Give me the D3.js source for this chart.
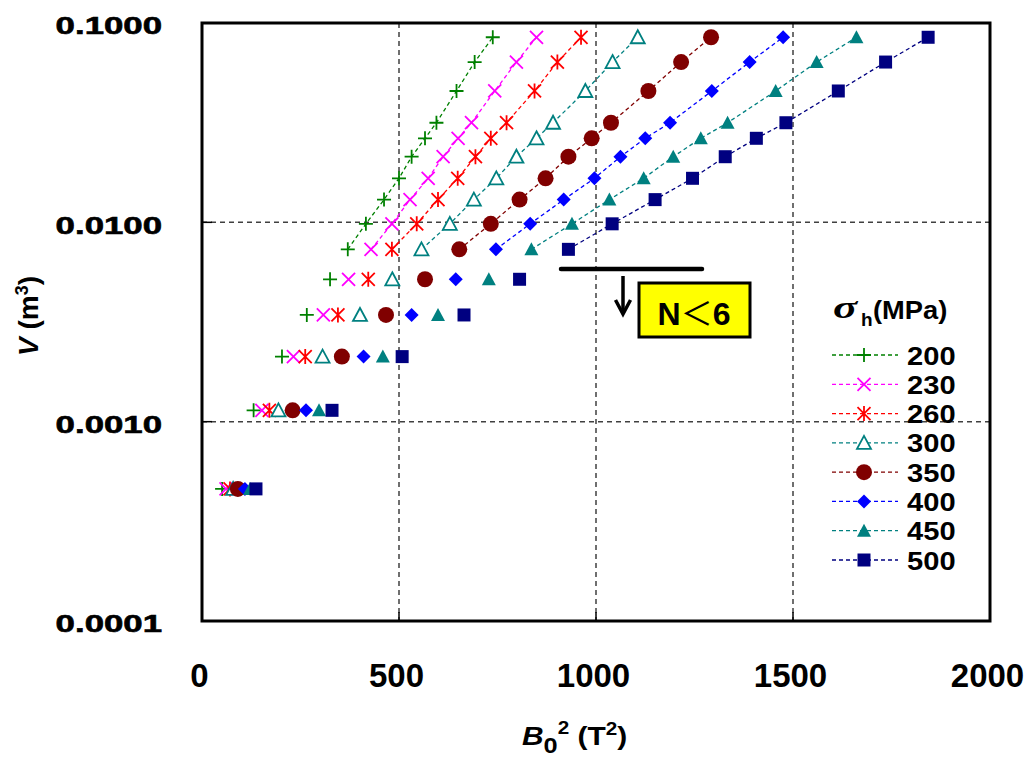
<!DOCTYPE html>
<html>
<head>
<meta charset="utf-8">
<script src="https://cdn.jsdelivr.net/npm/d3@7"></script>
<style>
  body { margin: 0; background: #fff; }
  text { font-family: "Liberation Sans", Arial, sans-serif; font-weight: bold; fill: #000; }
</style>
</head>
<body>
<svg width="1028" height="758"></svg>
<script>
// volume levels V (m3), shared by all series, smallest first
const volumes = [0.00046, 0.00114, 0.00212, 0.00343, 0.00518, 0.00732, 0.00983, 0.0130,
                 0.01663, 0.02134, 0.0264, 0.0316, 0.0456, 0.0637, 0.0848];
// B0^2 (T^2) per hoop stress
const b2_200 = [51, 131, 203, 266, 325, 370, 416, 462, 500, 532, 566, 595, 646, 692, 738];
const b2_230 = [61, 152, 232, 308, 372, 429, 482, 528, 574, 612, 650, 684, 743, 798, 849];
const b2_260 = [71, 171, 262, 345, 422, 482, 545, 599, 649, 694, 733, 773, 844, 902, 962];
const b2_300 = [79, 194, 306, 401, 483, 557, 629, 690, 747, 798, 849, 891, 973, 1042, 1106];
const b2_350 = [91, 230, 355, 467, 566, 653, 733, 806, 872, 930, 989, 1038, 1133, 1216, 1292];
const b2_400 = [109, 264, 410, 532, 644, 746, 833, 918, 996, 1062, 1125, 1188, 1294, 1390, 1475];
const b2_450 = [122, 297, 459, 599, 728, 836, 939, 1034, 1121, 1196, 1266, 1334, 1456, 1560, 1661];
const b2_500 = [137, 330, 508, 665, 806, 930, 1041, 1150, 1245, 1328, 1407, 1482, 1615, 1735, 1843];
const stressLabels = ["200", "230", "260", "300", "350", "400", "450", "500"];
const xTicks = [0, 500, 1000, 1500, 2000];
const yTicks = [0.0001, 0.001, 0.01, 0.1];
const firstLinked = 5; // points below this index (N<6) are not joined

const svg = d3.select("svg");

const xScale = d3.scaleLinear().domain([0, 2000]).range([202, 990]);
const yScale = d3.scaleLog().domain([0.0001, 0.1]).range([621, 23]);

const seriesB2 = [b2_200, b2_230, b2_260, b2_300, b2_350, b2_400, b2_450, b2_500];
const colors = ["#008000", "#ff00ff", "#ff0000", "#008080", "#800000", "#0000ff", "#008080", "#000080"];
const shapes = ["plus", "cross", "star", "triOpen", "circle", "diamond", "triangle", "square"];

const markerPath = {
  plus: "M-7,0H7M0,-7V7",
  cross: "M-6.5,-6.5L6.5,6.5M-6.5,6.5L6.5,-6.5",
  star: "M-6.5,-6.5L6.5,6.5M-6.5,6.5L6.5,-6.5M0,-7.5V7.5",
  triOpen: "M0,-7L7,6L-7,6Z",
  circle: d3.symbol(d3.symbolCircle, 201)(),
  diamond: "M0,-7L7,0L0,7L-7,0Z",
  triangle: "M0,-7L7,6L-7,6Z",
  square: "M-6.5,-6.5H6.5V6.5H-6.5Z"
};
const stroked = { plus: true, cross: true, star: true, triOpen: true };

const drawMarker = (sel, shape, color) => {
  sel.append("path")
    .attr("d", markerPath[shape])
    .attr("fill", stroked[shape] ? (shape === "triOpen" ? "#fff" : "none") : color)
    .attr("stroke", stroked[shape] ? color : "none")
    .attr("stroke-width", 1.8);
};

// plot frame background
svg.append("rect")
  .attr("x", 202).attr("y", 23).attr("width", 788).attr("height", 598)
  .attr("fill", "#fff");

// gridlines
const grid = svg.append("g");
grid.selectAll(".vg")
  .data([500, 1000, 1500])
  .enter().append("line")
  .attr("x1", d => xScale(d)).attr("x2", d => xScale(d))
  .attr("y1", 23).attr("y2", 621)
  .attr("stroke", "#404040").attr("stroke-width", 1.5).attr("stroke-dasharray", "5,4");
grid.selectAll(".hg")
  .data([0.001, 0.01])
  .enter().append("line")
  .attr("y1", d => yScale(d)).attr("y2", d => yScale(d))
  .attr("x1", 202).attr("x2", 990)
  .attr("stroke", "#404040").attr("stroke-width", 1.5).attr("stroke-dasharray", "5,4");

// inside tick marks
grid.selectAll(".xt")
  .data([500, 1000, 1500])
  .enter().append("line")
  .attr("x1", d => xScale(d)).attr("x2", d => xScale(d))
  .attr("y1", 621).attr("y2", 612)
  .attr("stroke", "#000").attr("stroke-width", 1.5);
grid.selectAll(".yt")
  .data([0.001, 0.01])
  .enter().append("line")
  .attr("y1", d => yScale(d)).attr("y2", d => yScale(d))
  .attr("x1", 202).attr("x2", 212)
  .attr("stroke", "#000").attr("stroke-width", 1.5);

// series
const line = d3.line().x(d => xScale(d.b2)).y(d => yScale(d.v));

seriesB2.forEach((arr, i) => {
  const pts = arr.map((b, j) => ({ b2: b, v: volumes[j] }));
  const g = svg.append("g");
  g.append("path")
    .attr("d", line(pts.slice(firstLinked)))
    .attr("fill", "none")
    .attr("stroke", colors[i])
    .attr("stroke-width", 1.3)
    .attr("stroke-dasharray", "4,3");
  g.selectAll("g")
    .data(pts)
    .enter().append("g")
    .attr("transform", d => `translate(${xScale(d.b2)},${yScale(d.v)})`)
    .each(function () { drawMarker(d3.select(this), shapes[i], colors[i]); });
});

// frame
svg.append("rect")
  .attr("x", 202).attr("y", 23).attr("width", 788).attr("height", 598)
  .attr("fill", "none").attr("stroke", "#000").attr("stroke-width", 3);

// axes
const xAxis = svg.append("g")
  .attr("transform", "translate(0,621)")
  .call(d3.axisBottom(xScale).tickValues(xTicks).tickFormat(d3.format("d")).tickSize(0));
xAxis.select(".domain").remove();
xAxis.attr("font-family", null).attr("font-size", null);
xAxis.selectAll(".tick text")
  .attr("y", 65.5).attr("dy", 0).attr("x", -3)
  .style("font-size", "33px");

const yAxis = svg.append("g")
  .attr("transform", "translate(202,0)")
  .call(d3.axisLeft(yScale).tickValues(yTicks).tickFormat(d3.format(".4f")).tickSize(0));
yAxis.select(".domain").remove();
yAxis.attr("font-family", null).attr("font-size", null);
yAxis.selectAll(".tick text")
  .attr("x", -40 / 1.45).attr("dy", "0.45em")
  .attr("transform", "scale(1.45,1)")
  .attr("stroke", "#000").attr("stroke-width", 0.6)
  .style("font-size", "24px");

// axis titles
const xt = svg.append("text")
  .attr("transform", "translate(522,745) scale(1.15,1)")
  .style("font-size", "26px");
xt.append("tspan").text("B").style("font-style", "italic");
xt.append("tspan").text("0").attr("dy", 8).style("font-size", "22px");
xt.append("tspan").text("2").attr("dy", -19).style("font-size", "18px");
xt.append("tspan").text(" (T").attr("dy", 11);
xt.append("tspan").text("2").attr("dy", -10).style("font-size", "18px");
xt.append("tspan").text(")").attr("dy", 10);

const yt = svg.append("text")
  .attr("transform", "translate(38,316) rotate(-90)")
  .attr("text-anchor", "middle")
  .style("font-size", "28px");
yt.append("tspan").text("V").style("font-style", "italic");
yt.append("tspan").text(" (m");
yt.append("tspan").text("3").attr("dy", -10).style("font-size", "18px");
yt.append("tspan").text(")").attr("dy", 10);

// N<6 annotation
svg.append("line")
  .attr("x1", 561).attr("x2", 702).attr("y1", 269).attr("y2", 269)
  .attr("stroke", "#000").attr("stroke-width", 4.5).attr("stroke-linecap", "round");
svg.append("line")
  .attr("x1", 623).attr("x2", 623).attr("y1", 276).attr("y2", 313)
  .attr("stroke", "#000").attr("stroke-width", 3.5);
svg.append("path")
  .attr("d", "M615.5,300L623,314L630.5,300")
  .attr("fill", "none").attr("stroke", "#000").attr("stroke-width", 3.5);
svg.append("rect")
  .attr("x", 639).attr("y", 283).attr("width", 111).attr("height", 54)
  .attr("fill", "#ffff00").attr("stroke", "#000").attr("stroke-width", 3);
const nt = svg.append("text")
  .attr("x", 694).attr("y", 325)
  .attr("text-anchor", "middle")
  .style("font-size", "32px");
nt.append("tspan").text("N");
nt.append("tspan").text("＜")
  .style("font-family", "'Noto Sans CJK JP', sans-serif").style("font-weight", "normal");
nt.append("tspan").text("6");

// legend
const legend = svg.append("g");
legend.append("text")
  .attr("transform", "translate(833,318) scale(1.45,1)")
  .style("font-family", "'Liberation Serif', serif")
  .style("font-style", "italic")
  .style("font-size", "31px")
  .text("σ");
legend.append("text")
  .attr("x", 861).attr("y", 326)
  .style("font-size", "19px")
  .text("h");
legend.append("text")
  .attr("transform", "translate(873,319) scale(1.05,1)")
  .style("font-size", "26px")
  .text("(MPa)");

const legendRow = d3.scaleLinear().domain([0, 7]).range([355, 560]);
stressLabels.forEach((lab, i) => {
  const y = legendRow(i);
  const g = legend.append("g");
  g.append("line")
    .attr("x1", 832).attr("x2", 898).attr("y1", y).attr("y2", y)
    .attr("stroke", colors[i]).attr("stroke-width", 1.3).attr("stroke-dasharray", "4,3");
  const m = g.append("g").attr("transform", `translate(864,${y})`);
  drawMarker(m, shapes[i], colors[i]);
  g.append("text")
    .attr("transform", `translate(907,${y + 9.5}) scale(1.12,1)`)
    .style("font-size", "26px")
    .text(lab);
});
</script>
</body>
</html>
